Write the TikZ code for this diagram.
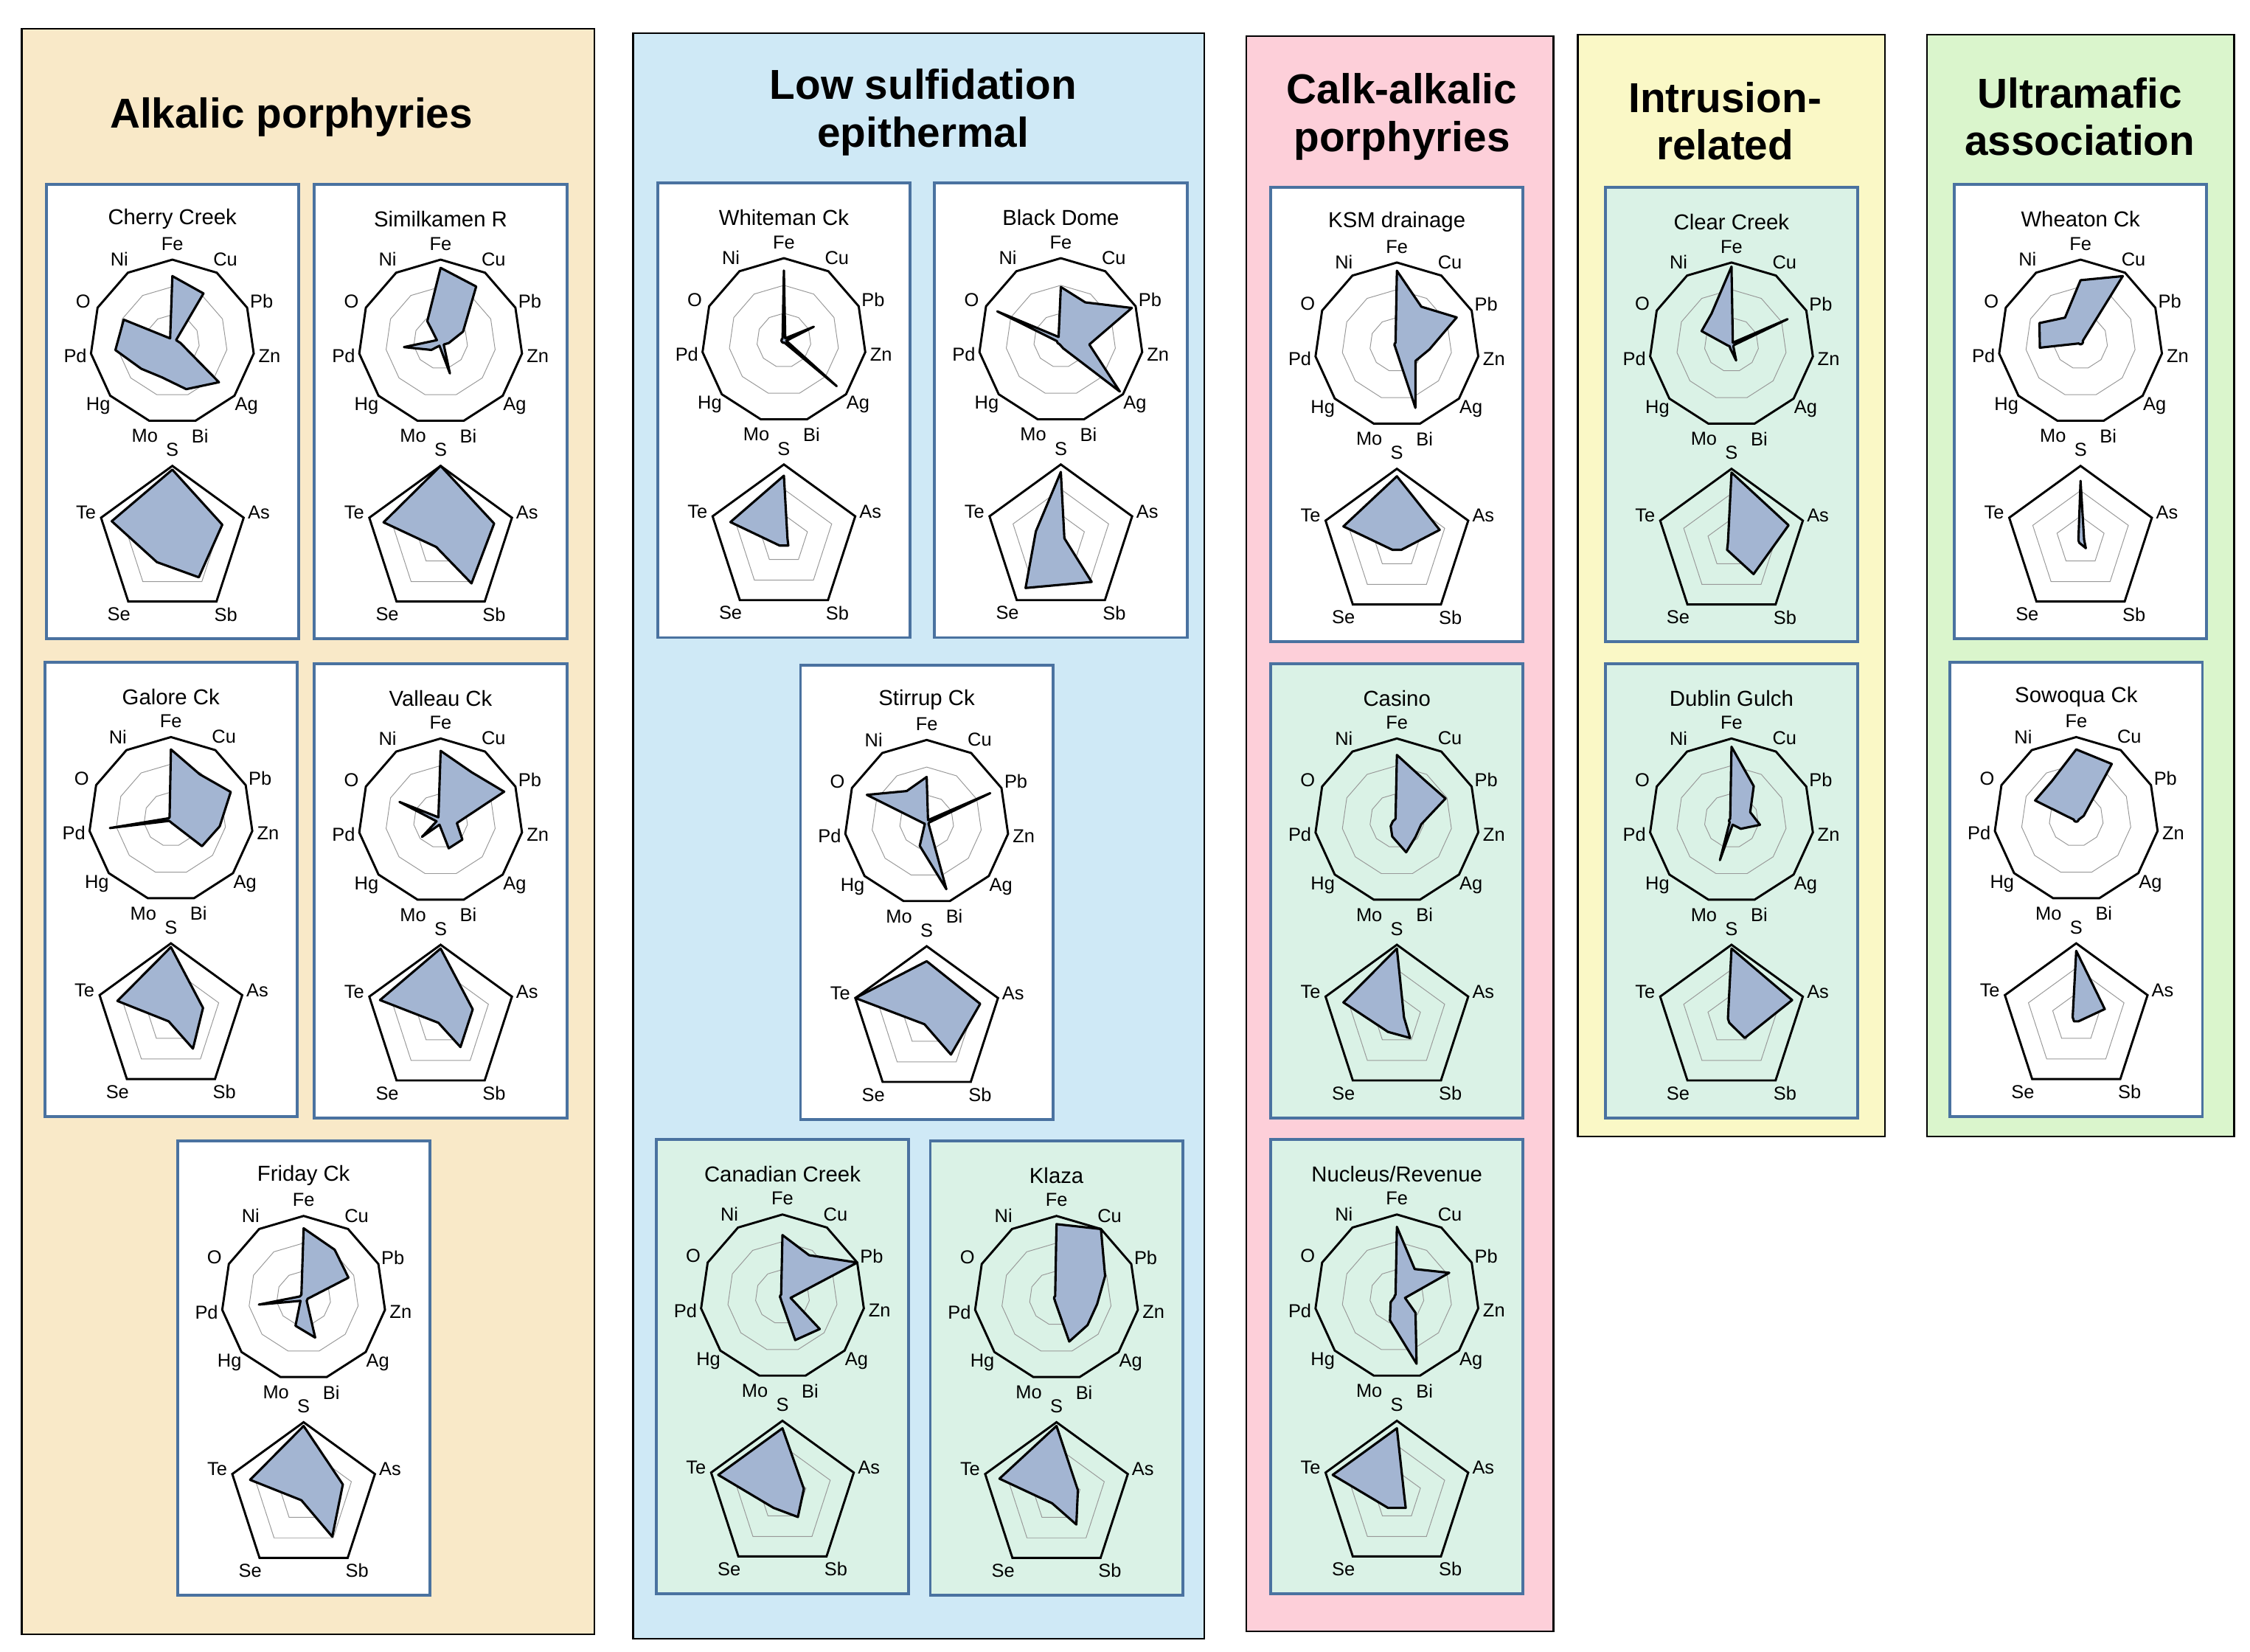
\documentclass[tikz,border=0pt]{standalone}
\usepackage{fontspec}
\setmainfont{Liberation Sans}
\definecolor{alk}{HTML}{F9E9C8}
\definecolor{low}{HTML}{CFE9F6}
\definecolor{calk}{HTML}{FDCFD9}
\definecolor{intr}{HTML}{FAF8C6}
\definecolor{ultra}{HTML}{DAF5CC}
\definecolor{pgreen}{HTML}{DAF2E6}
\definecolor{pblue}{HTML}{4A72A0}
\definecolor{dfill}{HTML}{A3B5D2}
\tikzset{
 group/.style={draw=black,line width=1.3pt},
 pbox/.style={draw=pblue,line width=2pt},
 grp title/.style={font=\bfseries\fontsize{29}{33}\selectfont,align=center},
 ptitle/.style={font=\fontsize{15}{17}\selectfont},
 axlab/.style={font=\fontsize{13}{14}\selectfont,inner sep=0pt},
 outer/.style={draw=black,line width=1.5pt},
 ring/.style={draw=gray!80,line width=0.5pt},
 data/.style={draw=black,fill=dfill,line width=1.6pt,line join=round},
}
\def\dR{57}
\def\pR{52}
% panel: x, y (top-left, y downward), title, fill, 11 values, 5 values
\newcommand\mypanel[6]{%
 \begin{scope}[shift={(#1,-#2)}]
  \draw[pbox,fill=#4] (0,0) rectangle (175,-315);
  \node[ptitle] at (87.5,-24) {#3};
  \begin{scope}[shift={(87.5,-109)}]
   \foreach \f in {0.33,0.67}{\draw[ring] (90:\f*\dR) \foreach \k in {1,...,10}{ -- ({90-\k*360/11}:\f*\dR)} -- cycle;}
   \draw[outer] (90:\dR) \foreach \k in {1,...,10}{ -- ({90-\k*360/11}:\dR)} -- cycle;
   \foreach \v [count=\k from 0] in {#5} \coordinate (d\k) at ({90-\k*360/11}:{max(\v,0.03)*\dR});
   \draw[data] (d0)--(d1)--(d2)--(d3)--(d4)--(d5)--(d6)--(d7)--(d8)--(d9)--(d10)--cycle;
   \foreach \t [count=\k from 0] in {Fe,Cu,Pb,Zn,Ag,Bi,Mo,Hg,Pd,O,Ni}
     \node[axlab] at ({90-\k*360/11}:\dR+11) {\t};
  \end{scope}
  \begin{scope}[shift={(87.5,-247)}]
   \foreach \f in {0.33,0.67}{\draw[ring] (90:\f*\pR) \foreach \k in {1,...,4}{ -- ({90-\k*72}:\f*\pR)} -- cycle;}
   \draw[outer] (90:\pR) \foreach \k in {1,...,4}{ -- ({90-\k*72}:\pR)} -- cycle;
   \foreach \v [count=\k from 0] in {#6} \coordinate (p\k) at ({90-\k*72}:{max(\v,0.03)*\pR});
   \draw[data] (p0)--(p1)--(p2)--(p3)--(p4)--cycle;
   \foreach \t [count=\k from 0] in {S,As,Sb,Se,Te}
     \node[axlab] at ({90-\k*72}:\pR+11) {\t};
  \end{scope}
 \end{scope}}
\begin{document}
\begin{tikzpicture}[x=1pt,y=1pt]
\useasboundingbox (0,0) rectangle (1560,-1145.3);
\fill[white] (0,0) rectangle (1560,-1145.3);
% groups
\draw[group,fill=alk] (15,-20) rectangle (412,-1133);
\draw[group,fill=low] (439,-23) rectangle (835,-1136);
\draw[group,fill=calk] (864,-25) rectangle (1077,-1131);
\draw[group,fill=intr] (1094,-24) rectangle (1307,-788);
\draw[group,fill=ultra] (1336,-24) rectangle (1549,-788);
\node[grp title] (t1) at (202,-81) {Alkalic porphyries};
\node[grp title] (t2) at (640,-78) {Low sulfidation\\epithermal};
\node[grp title] (t3) at (972,-81) {Calk-alkalic\\porphyries};
\node[grp title] (t4) at (1196,-84) {Intrusion-\\related};
\node[grp title] (t5) at (1442,-81) {Ultramafic\\association};
% Alkalic
\mypanel{32}{128}{Cherry Creek}{white}{.8,.7,.05,.1,.75,.6,.45,.5,.7,.65,.05}{.95,.7,.6,.35,.85}
\mypanel{218}{128}{Similkamen R}{white}{.9,.8,.3,.1,.05,.4,.05,.15,.45,.05,.3}{1,.75,.7,.1,.8}
\mypanel{31}{459}{Galore Ck}{white}{.85,.65,.8,.6,.5,.05,0,0,.75,0,0}{.95,.45,.5,.05,.75}
\mypanel{218}{460}{Valleau Ck}{white}{.85,.7,.85,.2,.35,.35,.05,.3,.05,.55,.05}{.95,.45,.45,.05,.85}
\mypanel{123}{791}{Friday Ck}{white}{.85,.7,.6,.05,.05,.5,.35,.05,.55,.05,.05}{.95,.55,.65,.05,.75}
% Low sulfidation
\mypanel{456}{127}{Whiteman Ck}{white}{.85,0,.4,0,.85,0,0,0,0,0,0}{.85,.05,.1,.1,.75}
\mypanel{648}{127}{Black Dome}{white}{.65,.55,.95,.35,.95,.1,.05,.05,.05,.85,.05}{.9,.05,.7,.8,.35}
\mypanel{555}{461}{Stirrup Ck}{white}{.55,0,.85,0,0,.85,.3,0,.05,.8,.45}{.8,.75,.55,.05,1}
\mypanel{455}{790}{Canadian Creek}{pgreen}{.75,.6,1,.1,.6,.55,.05,0,0,0,0}{.9,.3,.35,.2,.9}
\mypanel{645}{791}{Klaza}{pgreen}{.9,1,.65,.5,.5,.55,.05,0,0,0,0}{.95,.3,.45,.1,.8}
% Calk-alkalic
\mypanel{881}{130}{KSM drainage}{white}{.9,.55,.8,.4,.3,.8,.05,0,0,0,0}{.9,.6,.1,.1,.75}
\mypanel{881}{460}{Casino}{pgreen}{.8,.6,.65,.3,.3,.4,.2,.1,.05,0,0}{.95,.1,.3,.2,.75}
\mypanel{881}{790}{Nucleus/Revenue}{pgreen}{.85,.4,.7,.1,.3,.85,.3,.1,0,0,0}{.9,.1,.2,.2,.9}
% Intrusion
\mypanel{1113}{130}{Clear Creek}{pgreen}{.95,0,.75,0,0,.2,.05,0,.05,.4,.45}{.95,.8,.5,.1,.05}
\mypanel{1113}{460}{Dublin Gulch}{pgreen}{.9,.5,.25,.35,.15,.05,.5,0,0,0,0}{.95,.85,.3,.05,.05}
% Ultramafic
\mypanel{1355}{128}{Wheaton Ck}{white}{.75,.95,0,0,0,0,0,0,.5,.55,.35}{.8,.05,.12,.02,.02}
\mypanel{1352}{459}{Sowoqua Ck}{white}{.85,.8,.1,0,0,0,0,0,0,.55,.55}{.9,.4,.05,.05,.05}
\end{tikzpicture}
\end{document}
